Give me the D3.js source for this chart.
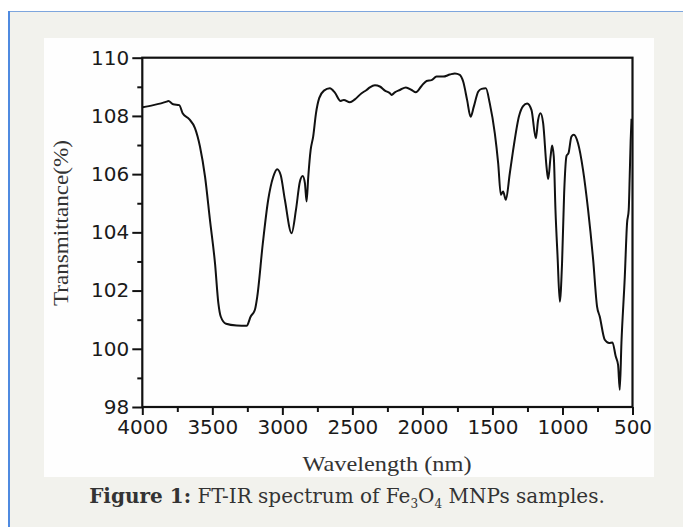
<!DOCTYPE html>
<html>
<head>
<meta charset="utf-8">
<script src="https://cdn.jsdelivr.net/npm/d3@7"></script>
<style>
  body { margin: 0; background: #fff; }
  svg { display: block; }
</style>
</head>
<body>
<svg id="chart" width="683" height="527"></svg>
<script>
// wavenumber (labelled "Wavelength (nm)" in the figure)
let wavenumber = [3997, 3921, 3826, 3814, 3779, 3736, 3712, 3665, 3624, 3588,
  3552, 3517, 3481, 3457, 3440, 3402, 3326, 3255, 3226, 3196, 3179, 3140, 3101,
  3065, 3037, 3012, 2982, 2934, 2903, 2875, 2855, 2839, 2827, 2815, 2798, 2780,
  2760, 2737, 2703, 2661, 2625, 2584, 2561, 2518, 2482, 2434, 2399, 2375, 2339,
  2304, 2268, 2232, 2220, 2197, 2161, 2118, 2077, 2047, 2006, 1970, 1935, 1899,
  1852, 1804, 1768, 1733, 1709, 1681, 1656, 1633, 1602, 1578, 1547, 1519, 1483,
  1459, 1440, 1424, 1404, 1376, 1352, 1310, 1281, 1252, 1221, 1190, 1174, 1157,
  1138, 1114, 1102, 1085, 1074, 1062, 1050, 1035, 1019, 1003, 988, 971, 957,
  936, 919, 889, 853, 817, 781, 753, 734, 698, 667, 643, 620, 603, 591, 579,
  555, 539, 527, 520, 513, 507]

let transmittance = [108.30, 108.37, 108.49, 108.51, 108.40, 108.37, 108.09,
  107.89, 107.58, 106.94, 105.91, 104.43, 102.94, 101.57, 101.11, 100.86, 100.80,
  100.79, 101.11, 101.34, 101.80, 103.60, 105.12, 105.91, 106.17, 105.97, 105.12,
  103.97, 104.77, 105.74, 105.94, 105.69, 105.06, 105.91, 106.83, 107.29, 108.09,
  108.61, 108.87, 108.95, 108.80, 108.51, 108.55, 108.47, 108.57, 108.78, 108.89,
  108.98, 109.05, 109.01, 108.87, 108.78, 108.72, 108.81, 108.89, 108.98, 108.89,
  108.81, 109.03, 109.20, 109.23, 109.35, 109.35, 109.42, 109.46, 109.41, 109.18,
  108.55, 107.97, 108.32, 108.83, 108.93, 108.95, 108.43, 107.40, 106.37, 105.29,
  105.40, 105.12, 106.03, 106.83, 108.00, 108.34, 108.43, 108.20, 107.23, 107.86,
  108.09, 107.75, 106.26, 105.83, 106.60, 106.98, 106.60, 104.77, 103.17, 101.62,
  102.94, 105.35, 106.63, 106.72, 107.29, 107.35, 107.06, 106.14, 104.77, 103.06,
  101.45, 101.11, 100.31, 100.20, 100.22, 99.74, 99.45, 98.59, 100.20, 102.48,
  104.31, 104.77, 105.91, 107.17, 107.90]

let xTicks = [4000, 3500, 3000, 2500, 2000, 1500, 1000, 500]
let yTicks = [98, 100, 102, 104, 106, 108, 110]

let spectrum = wavenumber.map((w, i) => ({ w: w, t: transmittance[i] }))

let svg = d3.select('#chart')

// page panel with blue edge
svg.append('rect').attr('x', 9).attr('y', 12).attr('width', 683).attr('height', 527)
  .attr('fill', '#f2f2ed')
svg.append('line').attr('x1', 8).attr('x2', 683).attr('y1', 11.5).attr('y2', 11.5)
  .attr('stroke', '#7ea6dd').attr('stroke-width', 1.2)
svg.append('line').attr('x1', 9).attr('x2', 9).attr('y1', 11).attr('y2', 527)
  .attr('stroke', '#4f8ae0').attr('stroke-width', 2)

// white figure area
svg.append('rect').attr('x', 44).attr('y', 38).attr('width', 610).attr('height', 439)
  .attr('fill', '#fefefe')

let x = d3.scaleLinear().domain([4000, 500]).range([142.3, 632.5])
let y = d3.scaleLinear().domain([98, 110]).range([407, 57.7])

let plot = svg.append('g')

// minor ticks
plot.append('g')
  .attr('transform', 'translate(0,' + y(98) + ')')
  .call(d3.axisBottom(x).tickValues(d3.range(3750, 500, -500)).tickSize(5).tickFormat(''))
plot.append('g')
  .attr('transform', 'translate(' + x(4000) + ',0)')
  .call(d3.axisLeft(y).tickValues(d3.range(99, 110, 2)).tickSize(5).tickFormat(''))

// major ticks with labels
let xAxis = plot.append('g').attr('class', 'axis x')
  .attr('transform', 'translate(0,' + y(98) + ')')
  .call(d3.axisBottom(x).tickValues(xTicks).tickSize(8).tickPadding(5).tickFormat(d3.format('d')))
let yAxis = plot.append('g').attr('class', 'axis y')
  .attr('transform', 'translate(' + x(4000) + ',0)')
  .call(d3.axisLeft(y).tickValues(yTicks).tickSize(10).tickPadding(3).tickFormat(d3.format('d')))

plot.selectAll('.domain').remove()
plot.selectAll('.tick line').attr('stroke', '#111').attr('stroke-width', 2)
plot.selectAll('.tick text')
  .attr('font-family', 'DejaVu Sans')
  .attr('font-size', 20)
  .attr('fill', '#1a1a1a')

// the curve
let line = d3.line().x(d => x(d.w)).y(d => y(d.t)).curve(d3.curveMonotoneX)
plot.append('path')
  .datum(spectrum)
  .attr('d', line)
  .attr('fill', 'none')
  .attr('stroke', '#111')
  .attr('stroke-width', 2)
  .attr('stroke-linejoin', 'round')

// frame
plot.append('rect')
  .attr('x', x(4000)).attr('y', y(110))
  .attr('width', x(500) - x(4000)).attr('height', y(98) - y(110))
  .attr('fill', 'none').attr('stroke', '#111').attr('stroke-width', 2.2)

// axis titles
svg.append('text')
  .attr('x', 387).attr('y', 471)
  .attr('text-anchor', 'middle')
  .attr('font-family', 'Liberation Serif')
  .attr('font-size', 21)
  .attr('fill', '#333')
  .attr('textLength', 169).attr('lengthAdjust', 'spacingAndGlyphs')
  .text('Wavelength (nm)')

svg.append('text')
  .attr('transform', 'translate(68,223) rotate(-90)')
  .attr('text-anchor', 'middle')
  .attr('font-family', 'Liberation Serif')
  .attr('font-size', 21)
  .attr('fill', '#333')
  .attr('textLength', 166).attr('lengthAdjust', 'spacingAndGlyphs')
  .text('Transmittance(%)')

// caption
let caption = svg.append('text')
  .attr('x', 347).attr('y', 503)
  .attr('text-anchor', 'middle')
  .attr('font-family', 'DejaVu Serif')
  .attr('font-size', 20)
  .attr('fill', '#333')
caption.append('tspan').attr('font-weight', 'bold').text('Figure 1:')
caption.append('tspan').text(' FT-IR spectrum of Fe')
caption.append('tspan').attr('font-size', 12).attr('dy', 5).text('3')
caption.append('tspan').attr('dy', -5).text('O')
caption.append('tspan').attr('font-size', 12).attr('dy', 5).text('4')
caption.append('tspan').attr('dy', -5).text(' MNPs samples.')
</script>
</body>
</html>
